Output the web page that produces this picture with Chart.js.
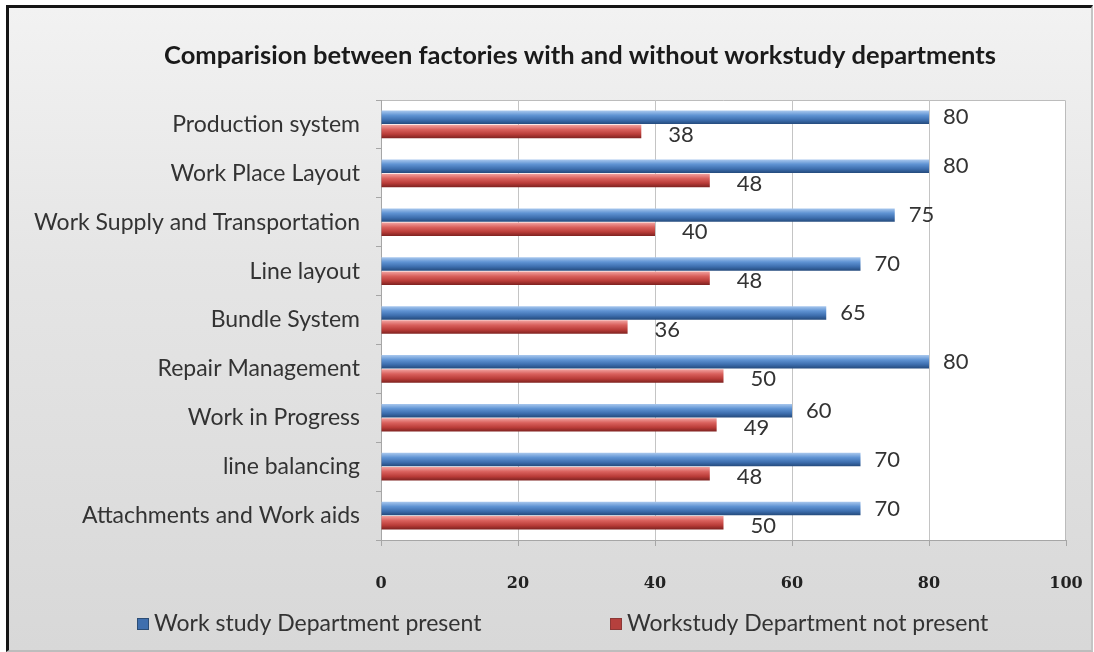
<!DOCTYPE html>
<html><head><meta charset="utf-8">
<script src="https://cdn.jsdelivr.net/npm/chart.js@4.4.1/dist/chart.umd.min.js"></script>
<style>
html,body{margin:0;padding:0;background:#fff;}
#wrap{position:absolute;left:0;top:0;width:1094px;height:652px;}
#frame{position:absolute;left:6px;top:5px;width:1082px;height:642px;border-left:3px solid #151515;border-top:3px solid #151515;border-right:2px solid #c4c4c4;border-bottom:2px solid #bdbdbd;background:linear-gradient(#f2f2f2,#e5e5e5 40%,#d8d8d8);}
#c{position:absolute;left:0;top:0;}
</style>
</head>
<body>
<div id="wrap"><div id="frame"></div><canvas id="c" width="1094" height="652"></canvas></div>
<script>
const title = 'Comparision between factories with and without workstudy departments';
const categories = ['Production system','Work Place Layout','Work Supply and Transportation','Line layout','Bundle System','Repair Management','Work in Progress','line balancing','Attachments and Work aids'];
const seriesNames = ['Work study Department present','Workstudy Department not present'];
const presentValues = [80,80,75,70,65,80,60,70,70];
const notPresentValues = [38,48,40,48,36,50,49,48,50];
const xTicks = [0,20,40,60,80,100];

const LABEL_FONT = 'Lato';
const legendSwatch = ['#3f6fae','#b5403d'];
const legendSwatchEdge = ['#2c4d75','#8c3836'];

const plotBg = {
  id:'plotBg',
  beforeDraw(chart){
    const {ctx, chartArea:a} = chart;
    ctx.save();
    ctx.fillStyle='#ffffff';
    ctx.fillRect(a.left,a.top,a.right-a.left,a.bottom-a.top);
    ctx.strokeStyle='#bcbcbc';
    ctx.lineWidth=1;
    ctx.beginPath();
    ctx.moveTo(a.left,a.top+0.5);ctx.lineTo(a.right-0.5,a.top+0.5);ctx.lineTo(a.right-0.5,a.bottom);
    ctx.stroke();
    ctx.restore();
  }
};

const titlePlugin = {
  id:'titleText',
  afterDraw(chart){
    const ctx=chart.ctx;
    ctx.save();
    ctx.font='bold 25.5px '+LABEL_FONT;
    ctx.fillStyle='#1a1a1a';
    ctx.textAlign='center';
    ctx.textBaseline='middle';
    ctx.fillText(title,580,56);
    ctx.restore();
  }
};

const legendPlugin = {
  id:'customLegend',
  afterDraw(chart){
    const ctx=chart.ctx;
    const starts=[137,610];
    ctx.save();
    ctx.font='23px '+LABEL_FONT;
    ctx.textBaseline='middle';
    ctx.textAlign='left';
    chart.data.datasets.forEach((ds,i)=>{
      const x=starts[i], y=624;
      ctx.fillStyle=legendSwatch[i];
      ctx.fillRect(x,y-6,12,12);
      ctx.strokeStyle=legendSwatchEdge[i];
      ctx.lineWidth=1;
      ctx.strokeRect(x+0.5,y-5.5,11,11);
      ctx.fillStyle='#333333';
      ctx.fillText(ds.label,x+17,y);
    });
    ctx.restore();
  }
};

const gradPlugin = {
  id:'barGrad',
  beforeDatasetsDraw(chart){
    const ctx=chart.ctx;
    chart.data.datasets.forEach((ds,di)=>{
      const meta=chart.getDatasetMeta(di);
      meta.data.forEach(el=>{
        const h=el.height, y0=el.y-h/2;
        const g=ctx.createLinearGradient(0,y0,0,y0+h);
        if(di===0){
          g.addColorStop(0,'#a9c8ee');g.addColorStop(0.35,'#5f93d3');g.addColorStop(0.7,'#3d6eae');g.addColorStop(1,'#244a7c');
        } else {
          g.addColorStop(0,'#f2a3a0');g.addColorStop(0.35,'#d9605c');g.addColorStop(0.7,'#b93c38');g.addColorStop(1,'#7e2220');
        }
        el.options.backgroundColor=g;
      });
    });
  }
};

const valueLabels = {
  id:'valueLabels',
  afterDatasetsDraw(chart){
    const ctx=chart.ctx;
    ctx.save();
    ctx.font='22px '+LABEL_FONT;
    ctx.fillStyle='#333333';
    ctx.textBaseline='middle';
    ctx.textAlign='left';
    chart.data.datasets.forEach((ds,di)=>{
      const meta=chart.getDatasetMeta(di);
      meta.data.forEach((el,i)=>{
        const v=ds.data[i];
        if(di===0) ctx.fillText(String(v), el.x+14, el.y);
        else ctx.fillText(String(v), el.x+27, el.y+3);
      });
    });
    ctx.restore();
  }
};

new Chart(document.getElementById('c'),{
  type:'bar',
  data:{
    labels:categories,
    datasets:[
      {label:seriesNames[0],data:presentValues,backgroundColor:()=> '#4f81bd',borderWidth:0,categoryPercentage:0.58,barPercentage:0.95},
      {label:seriesNames[1],data:notPresentValues,backgroundColor:()=> '#c0504d',borderWidth:0,categoryPercentage:0.58,barPercentage:0.95}
    ]
  },
  options:{
    indexAxis:'y',
    responsive:false,
    animation:false,
    devicePixelRatio:1,
    layout:{padding:{top:100,left:0,right:28,bottom:60}},
    plugins:{
      title:{display:false},
      tooltip:{enabled:false},
      legend:{display:false}
    },
    scales:{
      x:{
        min:0,max:100,
        afterBuildTicks(scale){ scale.ticks = xTicks.map(v=>({value:v})); },
        afterFit(scale){ scale.height=52; scale.paddingLeft=0; scale.paddingRight=0; },
        border:{display:true,color:'#a6a6a6',width:1},
        grid:{color:(c)=> (c.tick && (c.tick.value===0||c.tick.value===100))?'rgba(0,0,0,0)':'#c4c4c4',tickColor:'#a6a6a6',tickLength:6,drawTicks:true},
        ticks:{font:{family:'DejaVu Serif',size:16,weight:'bold'},color:'#222222',padding:28}
      },
      y:{
        afterFit(scale){ scale.width=381; scale.paddingTop=0; scale.paddingBottom=0; },
        border:{display:true,color:'#a6a6a6',width:1},
        grid:{drawOnChartArea:false,tickLength:5,tickColor:'#a6a6a6',offset:true},
        ticks:{font:{family:LABEL_FONT,size:23},color:'#333333',padding:16}
      }
    }
  },
  plugins:[plotBg,gradPlugin,valueLabels,legendPlugin,titlePlugin]
});
</script>
</body></html>
